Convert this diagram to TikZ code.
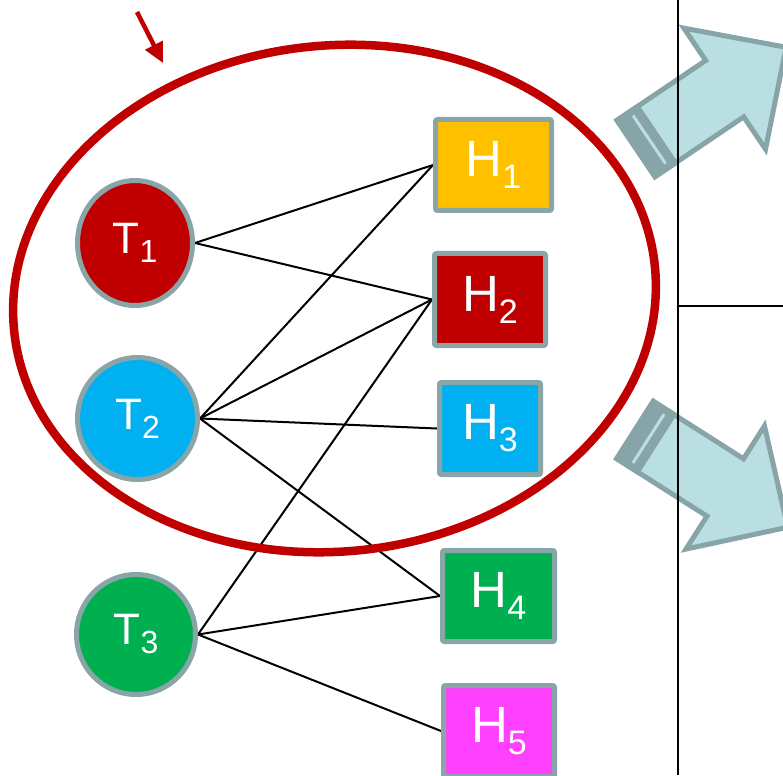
\documentclass[tikz,border=0pt]{standalone}
\usepackage{fontspec}
\setmainfont{Liberation Sans}
\usetikzlibrary{shapes.geometric,arrows.meta}
\pgfdeclarelayer{background}
\pgfdeclarelayer{bottom}
\pgfsetlayers{bottom,background,main}
\definecolor{bordergray}{HTML}{8AA5A8}
\definecolor{arrowfill}{HTML}{B9DFE3}
\definecolor{arrowline}{HTML}{87A5A8}
\definecolor{dred}{HTML}{C00000}
\definecolor{hyellow}{HTML}{FFC000}
\definecolor{hblue}{HTML}{00B0F0}
\definecolor{hgreen}{HTML}{00B050}
\definecolor{hmag}{HTML}{FF40FF}
\newcommand{\tlab}[1]{\fontsize{44}{44}\selectfont T\raisebox{-9pt}{\fontsize{32}{32}\selectfont #1}}
\newcommand{\hlab}[1]{\fontsize{51}{51}\selectfont H\raisebox{-12pt}{\fontsize{34}{34}\selectfont #1}}
\tikzset{
  tnode/.style={ellipse, draw=bordergray, line width=5pt, text=white, inner sep=0pt},
  hnode/.style={rectangle, draw=bordergray, line width=5pt, rounded corners=2pt, text=white, inner sep=0pt},
  conn/.style={black, line width=2pt},
  bigarrow/.style={fill=arrowfill, draw=arrowline, line width=5pt, line join=miter},
  divider/.style={black, line width=2pt}
}
\begin{document}
\begin{tikzpicture}[x=1pt,y=-1pt]
\clip (0,0) rectangle (783,775);
\begin{pgfonlayer}{bottom}
\fill[white] (0,0) rectangle (783,775);
\end{pgfonlayer}
% nodes
\node[tnode, fill=dred, minimum width=115pt, minimum height=125pt] (T1) at (135,243) {\tlab{1}};
\node[tnode, fill=hblue, minimum width=120pt, minimum height=122pt] (T2) at (137.5,418.5) {\tlab{2}};
\node[tnode, fill=hgreen, minimum width=119pt, minimum height=120pt] (T3) at (136,634.5) {\tlab{3}};
\node[hnode, fill=hyellow, minimum width=116pt, minimum height=91pt] (H1) at (493.5,165) {\hlab{1}};
\node[hnode, fill=dred, minimum width=111pt, minimum height=92pt] (H2) at (490,299.5) {\hlab{2}};
\node[hnode, fill=hblue, minimum width=101pt, minimum height=92pt] (H3) at (490,428.5) {\hlab{3}};
\node[hnode, fill=hgreen, minimum width=112pt, minimum height=91pt] (H4) at (498.5,596) {\hlab{4}};
\node[hnode, fill=hmag, minimum width=111pt, minimum height=91pt] (H5) at (499,731) {\hlab{5}};
% red ellipse
\draw[dred, line width=8.5pt, rotate around={5.7:(334.5,298.5)}] (334.5,298.5) ellipse [x radius=322pt, y radius=253pt];
% small red arrow
\coordinate (ra) at (137,12);
\coordinate (rb) at (163,63);
\draw[dred, line width=4.5pt, -{Triangle[length=20pt,width=19pt]}] (ra) -- (rb);
\begin{pgfonlayer}{background}
  % big arrows
  \begin{scope}[shift={(636,148.5)}, rotate=34]
    \draw[bigarrow] (0,-34) -- (107,-34) -- (107,-73) -- (181,0) -- (107,73) -- (107,34) -- (0,34) -- cycle;
    \fill[arrowline] (-2.5,-36.5) rectangle (27,36.5);
    \draw[arrowfill, line width=3pt] (16,-29) -- (16,29);
  \end{scope}
  \begin{scope}[shift={(635,430)}, rotate=-32.5]
    \draw[bigarrow] (0,-34) -- (107,-34) -- (107,-73) -- (181,0) -- (107,73) -- (107,34) -- (0,34) -- cycle;
    \fill[arrowline] (-2.5,-36.5) rectangle (27,36.5);
    \draw[arrowfill, line width=3pt] (16,-29) -- (16,29);
  \end{scope}
  % dividers
  \coordinate (v1) at (678,0);
  \coordinate (v2) at (678,775);
  \coordinate (hm) at (678,306);
  \coordinate (he) at (783,306);
  \draw[divider] (v1) -- (v2);
  \draw[divider] (hm) -- (he);
  % connectors
  \draw[conn] (T1.east) -- (H1.west);
  \draw[conn] (T1.east) -- (H2.west);
  \draw[conn] (T2.east) -- (H1.west);
  \draw[conn] (T2.east) -- (H2.west);
  \draw[conn] (T2.east) -- (H3.west);
  \draw[conn] (T2.east) -- (H4.west);
  \draw[conn] (T3.east) -- (H2.west);
  \draw[conn] (T3.east) -- (H4.west);
  \draw[conn] (T3.east) -- (H5.west);
\end{pgfonlayer}
\end{tikzpicture}
\end{document}
